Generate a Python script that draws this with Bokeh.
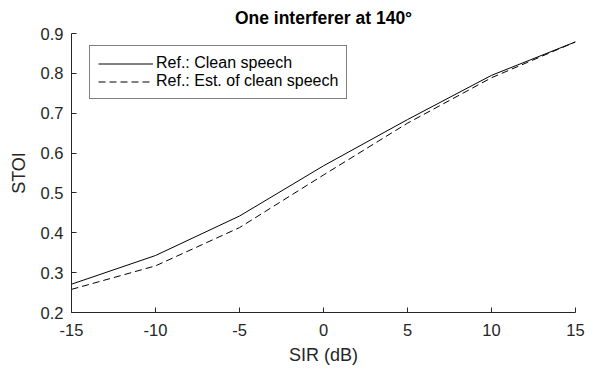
from bokeh.plotting import figure
from bokeh.models import Range1d, FixedTicker, Legend, LegendItem
from bokeh.embed import file_html
from bokeh.resources import INLINE

# Data
sir_db = [-15, -10, -5, 0, 5, 10, 15]
stoi_clean = [0.271, 0.343, 0.442, 0.568, 0.684, 0.795, 0.879]
stoi_est = [0.258, 0.317, 0.413, 0.545, 0.675, 0.789, 0.879]
x_ticks = [-15, -10, -5, 0, 5, 10, 15]
x_tick_labels = ["-15", "-10", "-5", "0", "5", "10", "15"]
y_ticks = [0.2, 0.3, 0.4, 0.5, 0.6, 0.7, 0.8, 0.9]
y_tick_labels = ["0.2", "0.3", "0.4", "0.5", "0.6", "0.7", "0.8", "0.9"]
label_clean = "Ref.: Clean speech"
label_est = "Ref.: Est. of clean speech"
title_text = "One interferer at 140°"

FONT = "Liberation Sans"
AX = "#262626"

p = figure(width=597, height=369, output_backend="svg", toolbar_location=None,
           x_range=Range1d(-15, 15), y_range=Range1d(0.2, 0.9),
           min_border_left=71, min_border_right=22, min_border_top=33,
           min_border_bottom=57)

p.title.text = title_text
p.title.align = "center"
p.title.text_font = FONT
p.title.text_font_size = "17.5px"
p.title.text_font_style = "bold"
p.title.text_color = "black"
p.title.standoff = 11

p.outline_line_color = None
p.grid.visible = False
p.background_fill_color = "white"
p.border_fill_color = "white"

for ax in (p.xaxis[0], p.yaxis[0]):
    ax.axis_line_color = AX
    ax.major_tick_line_color = AX
    ax.major_tick_in = 5
    ax.major_tick_out = 0
    ax.minor_tick_line_color = None
    ax.major_label_text_font = FONT
    ax.major_label_text_font_size = "16.5px"
    ax.major_label_text_color = AX
    ax.axis_label_text_font = FONT
    ax.axis_label_text_font_size = "18px"
    ax.axis_label_text_font_style = "normal"
    ax.axis_label_text_color = AX

p.xaxis.ticker = FixedTicker(ticks=x_ticks)
p.yaxis.ticker = FixedTicker(ticks=y_ticks)
p.xaxis.major_label_overrides = dict(zip(x_ticks, x_tick_labels))
p.yaxis.major_label_overrides = dict(zip(y_ticks, y_tick_labels))
p.xaxis.axis_label = "SIR (dB)"
p.yaxis.axis_label = "STOI"
p.xaxis.major_label_standoff = 11
p.yaxis.major_label_standoff = 8
p.xaxis.axis_label_standoff = 6
p.yaxis.axis_label_standoff = 9

r1 = p.line(sir_db, stoi_clean, line_color="black", line_width=1)
r2 = p.line(sir_db, stoi_est, line_color="black", line_width=1, line_dash="7 4")

legend = Legend(items=[LegendItem(label=label_clean, renderers=[r1]),
                       LegendItem(label=label_est, renderers=[r2])],
                location=(18, 213))
legend.label_text_font = FONT
legend.label_text_font_size = "16px"
legend.label_text_color = "black"
legend.glyph_width = 55
legend.glyph_height = 17
legend.label_height = 17
legend.label_standoff = 3
legend.padding = 8
legend.spacing = 0
legend.margin = 0
legend.border_line_color = "black"
legend.border_line_width = 1
legend.background_fill_alpha = 1.0
p.add_layout(legend, "center")

open("out.html", "w").write(file_html(p, INLINE))
